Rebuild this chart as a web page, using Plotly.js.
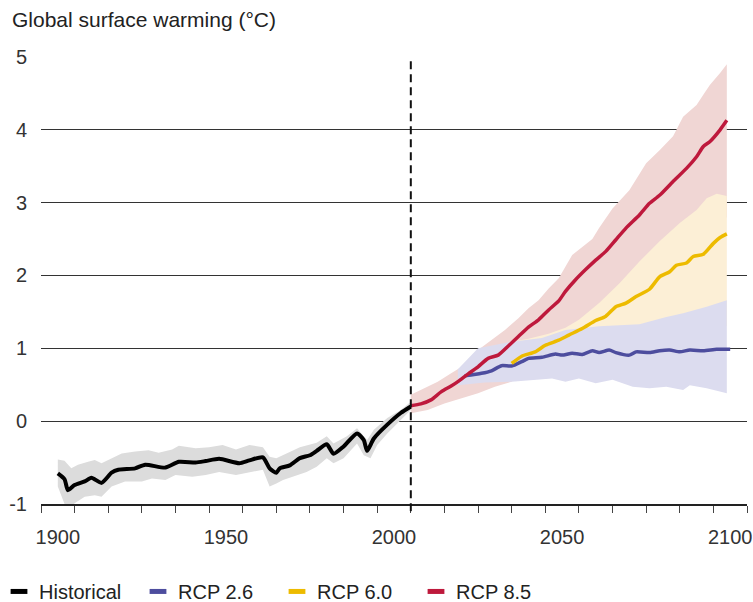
<!DOCTYPE html>
<html><head><meta charset="utf-8">
<script src="https://cdn.plot.ly/plotly-3.0.1.min.js"></script>
<style>html,body{margin:0;padding:0;background:#fff;}#chart{width:753px;height:602px;}</style>
</head><body><div id="chart"></div>
<script>
// ---- Data ----
const histYears = [1900,1902,1903,1905,1908,1910,1913,1916,1918,1923,1926,1932,1936,1941,1944,1948,1954,1957,1961,1963,1965,1966,1969,1972,1975,1977,1980,1982,1985,1989,1991,1992,1994,1998,2002,2005];
const histMean  = [-0.72,-0.80,-0.95,-0.88,-0.83,-0.78,-0.85,-0.71,-0.67,-0.65,-0.60,-0.64,-0.56,-0.57,-0.55,-0.52,-0.58,-0.54,-0.50,-0.65,-0.71,-0.65,-0.61,-0.51,-0.47,-0.41,-0.32,-0.45,-0.35,-0.17,-0.26,-0.41,-0.24,-0.05,0.11,0.20];
const histUpYears = [1900,1902,1904,1906,1909,1911,1913,1916,1919,1923,1927,1930,1934,1936,1941,1945,1949,1953,1957,1961,1963,1965,1968,1972,1977,1980,1982,1986,1989,1991,1992,1994,1998,2002,2005];
const histUpper   = [-0.53,-0.545,-0.65,-0.60,-0.56,-0.535,-0.58,-0.51,-0.445,-0.42,-0.40,-0.435,-0.39,-0.34,-0.375,-0.36,-0.33,-0.39,-0.33,-0.36,-0.49,-0.51,-0.445,-0.36,-0.30,-0.21,-0.31,-0.21,-0.10,-0.215,-0.26,-0.12,0.04,0.15,0.265];
const histLoYears = [1900,1903,1905,1908,1911,1913,1916,1920,1925,1928,1932,1935,1940,1944,1948,1953,1958,1961,1963,1965,1967,1970,1974,1977,1980,1982,1985,1989,1991,1993,1995,1998,2002,2005];
const histLower   = [-0.90,-1.26,-1.13,-1.04,-1.02,-1.04,-0.90,-0.83,-0.83,-0.79,-0.81,-0.74,-0.765,-0.74,-0.70,-0.74,-0.70,-0.67,-0.90,-0.86,-0.81,-0.765,-0.70,-0.63,-0.51,-0.58,-0.51,-0.31,-0.47,-0.51,-0.33,-0.17,0.01,0.15];

const rcp85Years = [2005,2008,2011,2014,2017,2019,2022,2025,2028,2031,2034,2037,2040,2043,2046,2049,2051,2054,2057,2060,2063,2066,2069,2073,2076,2079,2083,2087,2090,2092,2094,2097,2099];
const rcp85Mean  = [0.21,0.235,0.29,0.40,0.48,0.54,0.645,0.745,0.86,0.905,1.03,1.16,1.29,1.39,1.525,1.65,1.78,1.94,2.08,2.21,2.33,2.49,2.65,2.83,2.99,3.10,3.29,3.47,3.63,3.77,3.84,4.00,4.13];
const rcp85UpYears = [2005,2009,2013,2017,2021,2025,2029,2033,2037,2040,2043,2046,2049,2051,2053,2056,2059,2061,2065,2070,2075,2079,2083,2086,2090,2092,2094,2097,2099];
const rcp85Upper   = [0.36,0.45,0.54,0.655,0.77,0.975,1.11,1.25,1.41,1.55,1.66,1.82,1.96,2.12,2.28,2.39,2.50,2.65,2.92,3.17,3.54,3.72,3.91,4.18,4.34,4.48,4.62,4.78,4.90];
const rcp85LoYears = [2005,2010,2015,2020,2025,2030,2035,2040,2050,2060,2070,2080,2090,2099];
const rcp85Lower   = [0.105,0.15,0.24,0.31,0.38,0.47,0.54,0.75,1.1,1.45,1.8,2.15,2.5,2.8];

const rcp60Years = [2035,2038,2042,2045,2049,2052,2056,2060,2063,2066,2069,2072,2076,2079,2082,2084,2087,2089,2092,2095,2097,2099];
const rcp60Mean  = [0.79,0.89,0.95,1.04,1.11,1.18,1.27,1.38,1.44,1.57,1.62,1.71,1.81,1.98,2.05,2.14,2.17,2.26,2.29,2.44,2.52,2.57];
const rcp60UpYears = [2035,2040,2046,2051,2055,2061,2067,2073,2079,2085,2090,2093,2096,2099];
const rcp60Upper   = [1.09,1.13,1.20,1.28,1.39,1.62,1.89,2.19,2.47,2.72,2.90,3.06,3.12,3.09];
const rcp60LoYears = [2035,2050,2070,2099];
const rcp60Lower   = [0.75,0.9,1.1,1.3];

const rcp26Years = [2021,2026,2029,2032,2035,2038,2040,2044,2048,2050,2053,2056,2059,2061,2064,2066,2070,2072,2076,2079,2082,2085,2088,2092,2096,2100];
const rcp26Mean  = [0.62,0.655,0.69,0.76,0.755,0.815,0.86,0.875,0.92,0.905,0.93,0.915,0.965,0.94,0.975,0.94,0.905,0.95,0.94,0.965,0.975,0.95,0.975,0.965,0.985,0.985];
const rcp26UpYears = [2019,2025,2035,2044,2051,2061,2073,2081,2086,2093,2099];
const rcp26Upper   = [0.71,1.0,1.09,1.14,1.25,1.30,1.33,1.43,1.48,1.57,1.66];
const rcp26LoYears = [2019,2027,2035,2042,2047,2051,2055,2060,2065,2071,2076,2081,2086,2088,2093,2099];
const rcp26Lower   = [0.49,0.53,0.54,0.57,0.585,0.54,0.585,0.52,0.565,0.47,0.45,0.47,0.425,0.49,0.45,0.38];

const seriesNames = ['Historical','RCP 2.6','RCP 6.0','RCP 8.5'];
const xTickLabels = [1900,1950,2000,2050,2100];
const xMinorTicks = [1895,1905,1915,1925,1935,1945,1955,1965,1975,1985,1995,2005,2015,2025,2035,2045,2055,2065,2075,2085,2095,2105];
const yTickVals = [-1.14,0,1,2,3,4,5];
const yTickText = ['-1','0','1','2','3','4','5'];
const dividerYear = 2005;

// ---- Styles ----
const colors = {hist:'#000000', r26:'#4D4D9E', r60:'#EDBB00', r85:'#BE193C'};
const bands = {hist:'#DCDCDC', r26:'#DCDCEF', r60:'#FCEFD6', r85:'#F0D6D4'};

function band(upX, upY, loX, loY, color){
  return {x: upX.concat(loX.slice().reverse()), y: upY.concat(loY.slice().reverse()),
    type:'scatter', mode:'lines', fill:'toself', fillcolor:color, line:{width:0},
    hoverinfo:'skip', showlegend:false};
}
function line(x, y, color, w){
  return {x:x, y:y, type:'scatter', mode:'lines', line:{color:color, width:w, shape:'spline', smoothing:0.6},
    showlegend:false, hoverinfo:'skip'};
}
function legendItem(name, color){
  return {x:[null], y:[null], type:'scatter', mode:'markers', name:name,
    marker:{symbol:'line-ew-open', size:12, color:color, line:{color:color, width:5}}};
}

const traces = [
  band(rcp85UpYears, rcp85Upper, rcp85LoYears, rcp85Lower, bands.r85),
  band(rcp60UpYears, rcp60Upper, rcp60LoYears, rcp60Lower, bands.r60),
  band(rcp26UpYears, rcp26Upper, rcp26LoYears, rcp26Lower, bands.r26),
  band(histUpYears, histUpper, histLoYears, histLower, bands.hist),
  line(histYears, histMean, colors.hist, 4),
  line(rcp26Years, rcp26Mean, colors.r26, 3.5),
  line(rcp60Years, rcp60Mean, colors.r60, 3.5),
  line(rcp85Years, rcp85Mean, colors.r85, 3.5),
  legendItem(seriesNames[0], colors.hist),
  legendItem(seriesNames[1], colors.r26),
  legendItem(seriesNames[2], colors.r60),
  legendItem(seriesNames[3], colors.r85)
];

const font = 'Liberation Sans, Arial, Helvetica, sans-serif';
const layout = {
  width:753, height:602,
  margin:{l:41, r:6, t:57, b:98, autoexpand:false},
  paper_bgcolor:'#fff', plot_bgcolor:'#fff',
  font:{family:font, size:20, color:'#222'},
  title:{text:'Global surface warming (°C)', x:12/753, xref:'container', xanchor:'left',
         y:1-20/602, yref:'container', yanchor:'middle', font:{family:font, size:21, color:'#222'}},
  xaxis:{range:[1895,2105], tickmode:'array', tickvals:xTickLabels, ticktext:xTickLabels.map(String),
         ticks:'', ticklabelstandoff:14, showgrid:false, zeroline:false, automargin:false,
         showline:true, linecolor:'#222', linewidth:1.5,
         tickfont:{family:font, size:20, color:'#333'},
         minor:{tickmode:'array', tickvals:xMinorTicks, ticks:'outside', ticklen:7, tickcolor:'#444', tickwidth:1, showgrid:false}},
  yaxis:{range:[-1.14,5], tickmode:'array', tickvals:yTickVals, ticktext:yTickText,
         ticks:'', ticklabelstandoff:13, showgrid:true, gridcolor:'#333', gridwidth:1, automargin:false,
         zeroline:false, showline:false, tickfont:{family:font, size:20, color:'#333'}},
  shapes:[{type:'line', xref:'x', yref:'paper', x0:dividerYear, x1:dividerYear, y0:-0.016, y1:1,
           line:{color:'#111', width:2, dash:'8px,5px'}, layer:'above'}],
  showlegend:true,
  legend:{orientation:'h', x:-42/706, xanchor:'left', y:-0.152, yanchor:'top', entrywidth:94, entrywidthmode:'pixels',
          font:{family:font, size:20, color:'#222'}, bgcolor:'rgba(0,0,0,0)', itemclick:false, itemdoubleclick:false},
  hovermode:false
};

Plotly.newPlot('chart', traces, layout, {displayModeBar:false, staticPlot:true});
</script>
</body></html>
